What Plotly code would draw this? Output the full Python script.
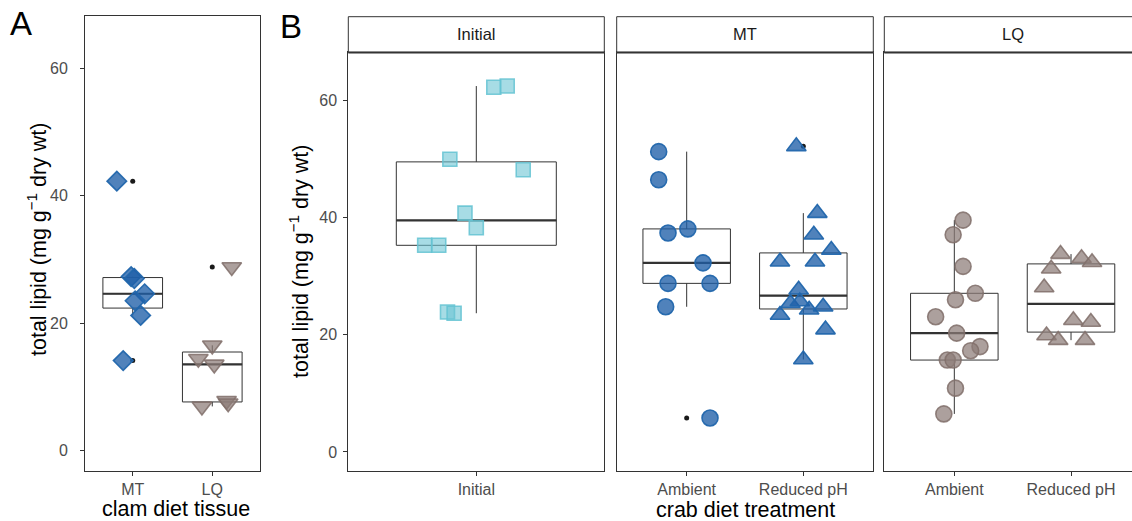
import numpy as np
import plotly.graph_objects as go

W, H = 1132, 521

# ---------------- data ----------------
# Panel A: clam diet tissue
a_categories = ["MT", "LQ"]
a_mt_values = [42.3, 27.3, 27.0, 24.6, 23.5, 21.2, 14.1]
a_mt_jitter = [-0.20, -0.02, 0.02, 0.15, 0.03, 0.10, -0.12]
a_lq_values = [28.8, 16.5, 14.4, 13.5, 7.8, 7.4, 6.9]
a_lq_jitter = [0.245, 0.0, -0.175, 0.025, 0.18, 0.20, -0.13]

# Panel B: crab diet treatment, faceted by Initial / MT / LQ
b_initial_categories = ["Initial"]
b_initial_values = [62.3, 62.5, 50.0, 48.2, 40.8, 38.3, 35.3, 35.3, 23.9, 23.7]
b_initial_jitter = [0.082, 0.145, -0.124, 0.22, -0.053, 0.0, -0.242, -0.176, -0.135, -0.104]

b_treat_categories = ["Ambient", "Reduced pH"]
b_mt_amb_values = [51.3, 46.5, 37.4, 38.1, 32.3, 28.8, 28.8, 24.8, 5.8]
b_mt_amb_jitter = [-0.24, -0.24, -0.16, 0.01, 0.14, -0.16, 0.20, -0.18, 0.20]
b_mt_red_values = [52.2, 40.8, 37.1, 34.5, 32.5, 32.5, 27.7, 25.4, 25.7, 23.4, 24.3, 24.8, 20.9, 15.8]
b_mt_red_jitter = [-0.06, 0.12, 0.09, 0.24, -0.20, 0.10, -0.04, -0.11, -0.03, -0.20, 0.05, 0.17, 0.19, 0.0]
b_lq_amb_values = [39.6, 37.1, 31.7, 27.1, 26.0, 23.1, 20.3, 18.0, 17.3, 15.7, 15.7, 10.9, 6.5]
b_lq_amb_jitter = [0.075, -0.01, 0.075, 0.18, 0.01, -0.16, 0.02, 0.22, 0.14, -0.06, -0.01, 0.01, -0.09]
b_lq_red_values = [33.8, 33.1, 32.4, 31.3, 28.1, 22.5, 22.2, 19.9, 19.1, 19.1]
b_lq_red_jitter = [-0.09, 0.09, 0.18, -0.17, -0.23, 0.02, 0.17, -0.21, -0.11, 0.12]

y_ticks = [0, 20, 40, 60]
y_title = "total lipid (mg g<sup>−1</sup> dry wt)"

# ---------------- styles ----------------
BLUE_FILL = "rgba(31,95,168,0.78)"
BLUE_LINE = "rgba(33,102,172,0.95)"
CYAN_FILL = "rgba(108,197,211,0.60)"
CYAN_LINE = "rgba(100,195,210,0.85)"
BROWN_FILL = "rgba(140,123,119,0.72)"
BROWN_LINE = "rgba(128,110,106,0.85)"
DARK = "#333333"
FONT = "Liberation Sans, Arial, Helvetica, sans-serif"
BOX_W = 0.75

fig = go.Figure()


def px_x(x):
    return x / W


def px_y(y):
    return 1 - y / H


def add_group(xa, ya, pos, values, jitter, symbol, size, fill, line):
    v = np.array(values, dtype=float)
    q1, med, q3 = np.percentile(v, [25, 50, 75])
    iqr = q3 - q1
    lo_f, hi_f = q1 - 1.5 * iqr, q3 + 1.5 * iqr
    inside = v[(v >= lo_f) & (v <= hi_f)]
    outl = v[(v < lo_f) | (v > hi_f)]
    fig.add_trace(go.Box(
        x=[pos], q1=[q1], median=[med], q3=[q3],
        lowerfence=[inside.min()], upperfence=[inside.max()],
        width=BOX_W, whiskerwidth=0, boxpoints=False,
        line=dict(color=DARK, width=1), fillcolor="rgba(255,255,255,0)",
        xaxis=xa, yaxis=ya, showlegend=False, hoverinfo="skip"))
    fig.add_trace(go.Scatter(
        x=[pos - BOX_W / 2, pos + BOX_W / 2], y=[med, med], mode="lines",
        line=dict(color=DARK, width=2.2), xaxis=xa, yaxis=ya,
        showlegend=False, hoverinfo="skip"))
    if len(outl):
        fig.add_trace(go.Scatter(
            x=[pos] * len(outl), y=outl, mode="markers",
            marker=dict(color="#1a1a1a", size=5), xaxis=xa, yaxis=ya,
            showlegend=False, hoverinfo="skip"))
    fig.add_trace(go.Scatter(
        x=[pos + j for j in jitter], y=values, mode="markers",
        marker=dict(symbol=symbol, size=size, color=fill,
                    line=dict(color=line, width=1.6)),
        xaxis=xa, yaxis=ya, showlegend=False, hoverinfo="skip"))


# Panel A
add_group("x", "y", 1, a_mt_values, a_mt_jitter, "diamond", 15, BLUE_FILL, BLUE_LINE)
add_group("x", "y", 2, a_lq_values, a_lq_jitter, "triangle-down", 17, BROWN_FILL, BROWN_LINE)
# Panel B - Initial
add_group("x2", "y2", 1, b_initial_values, b_initial_jitter, "square", 14, CYAN_FILL, CYAN_LINE)
# Panel B - MT
add_group("x3", "y3", 1, b_mt_amb_values, b_mt_amb_jitter, "circle", 16, BLUE_FILL, BLUE_LINE)
add_group("x3", "y3", 2, b_mt_red_values, b_mt_red_jitter, "triangle-up", 17, BLUE_FILL, BLUE_LINE)
# Panel B - LQ
add_group("x4", "y4", 1, b_lq_amb_values, b_lq_amb_jitter, "circle", 16, BROWN_FILL, BROWN_LINE)
add_group("x4", "y4", 2, b_lq_red_values, b_lq_red_jitter, "triangle-up", 17, BROWN_FILL, BROWN_LINE)

YR = [-3.25, 68.25]
tickfont = dict(family=FONT, size=16, color="#4d4d4d")
yA_dom = [px_y(471), px_y(16)]
yB_dom = [px_y(471), px_y(52.4)]


def xaxis(dom, rng, ticktext, mirror=True):
    return dict(domain=dom, range=rng, tickmode="array",
                tickvals=list(range(1, len(ticktext) + 1)), ticktext=ticktext,
                showgrid=False, zeroline=False, showline=True, mirror=mirror,
                linecolor=DARK, linewidth=1, ticks="outside", ticklen=4,
                tickcolor=DARK, tickwidth=1, tickfont=tickfont, fixedrange=True,
                ticklabelstandoff=0)


def yaxis(dom, anchor, showlabels, mirror=True, standoff=2):
    d = dict(domain=dom, range=YR, anchor=anchor, tickmode="array",
             tickvals=y_ticks, showgrid=False, zeroline=False, showline=True,
             mirror=mirror, linecolor=DARK, linewidth=1, fixedrange=True)
    if showlabels:
        d.update(ticks="outside", ticklen=4, tickcolor=DARK, tickwidth=1,
                 tickfont=tickfont, showticklabels=True, ticklabelstandoff=standoff)
    else:
        d.update(ticks="", showticklabels=False)
    return d


fig.update_layout(
    width=W, height=H, margin=dict(l=0, r=0, t=0, b=0),
    plot_bgcolor="white", paper_bgcolor="white",
    font=dict(family=FONT, color="#1a1a1a"),
    xaxis=dict(xaxis([px_x(85), px_x(260)], [0.4, 2.6], a_categories), anchor="y"),
    yaxis=yaxis(yA_dom, "x", True, standoff=9),
    xaxis2=dict(xaxis([px_x(348.3), px_x(604.3)], [0.4, 1.6], b_initial_categories), anchor="y2"),
    yaxis2=yaxis(yB_dom, "x2", True, standoff=3),
    xaxis3=dict(xaxis([px_x(616.7), px_x(873.3)], [0.4, 2.6], b_treat_categories), anchor="y3"),
    yaxis3=yaxis(yB_dom, "x3", False),
    xaxis4=dict(xaxis([px_x(884.3), 1.0], [0.4, 0.4 + (W - 884.3) / 116.7], b_treat_categories), anchor="y4"),
    yaxis4=yaxis(yB_dom, "x4", False, mirror=False),
)

# facet strips
strips = [("Initial", 348.3, 604.3), ("MT", 616.7, 873.3), ("LQ", 884.3, 1140.7)]
shapes = []
annotations = []
for label, x0, x1 in strips:
    shapes.append(dict(type="rect", xref="paper", yref="paper",
                       x0=px_x(x0), x1=px_x(x1), y0=px_y(52.4), y1=px_y(16.7),
                       line=dict(color=DARK, width=1), fillcolor="white", layer="above"))
    shapes.append(dict(type="line", xref="paper", yref="paper",
                       x0=px_x(x0), x1=px_x(x1), y0=px_y(52.4), y1=px_y(52.4),
                       line=dict(color=DARK, width=2), layer="above"))
    annotations.append(dict(text=label, xref="paper", yref="paper",
                            x=px_x((x0 + x1) / 2), y=px_y(34.5),
                            showarrow=False, xanchor="center", yanchor="middle",
                            font=dict(family=FONT, size=16.5, color="#1a1a1a")))

title_font = dict(family=FONT, size=21.5, color="#000000")
annotations += [
    dict(text=y_title, xref="paper", yref="paper", x=px_x(37), y=px_y(240),
         textangle=-90, showarrow=False, xanchor="center", yanchor="middle", font=title_font),
    dict(text=y_title, xref="paper", yref="paper", x=px_x(299), y=px_y(262),
         textangle=-90, showarrow=False, xanchor="center", yanchor="middle", font=title_font),
    dict(text="clam diet tissue", xref="paper", yref="paper", x=px_x(176), y=px_y(509),
         showarrow=False, xanchor="center", yanchor="middle", font=title_font),
    dict(text="crab diet treatment", xref="paper", yref="paper", x=px_x(745), y=px_y(510),
         showarrow=False, xanchor="center", yanchor="middle", font=title_font),
    dict(text="A", xref="paper", yref="paper", x=px_x(21), y=px_y(24),
         showarrow=False, xanchor="center", yanchor="middle",
         font=dict(family=FONT, size=33, color="#000000")),
    dict(text="B", xref="paper", yref="paper", x=px_x(291), y=px_y(26),
         showarrow=False, xanchor="center", yanchor="middle",
         font=dict(family=FONT, size=33, color="#000000")),
]
fig.update_layout(shapes=shapes, annotations=annotations)

fig.write_html("out.html", config={"displayModeBar": False},
               post_script="document.body.style.margin='0';")
